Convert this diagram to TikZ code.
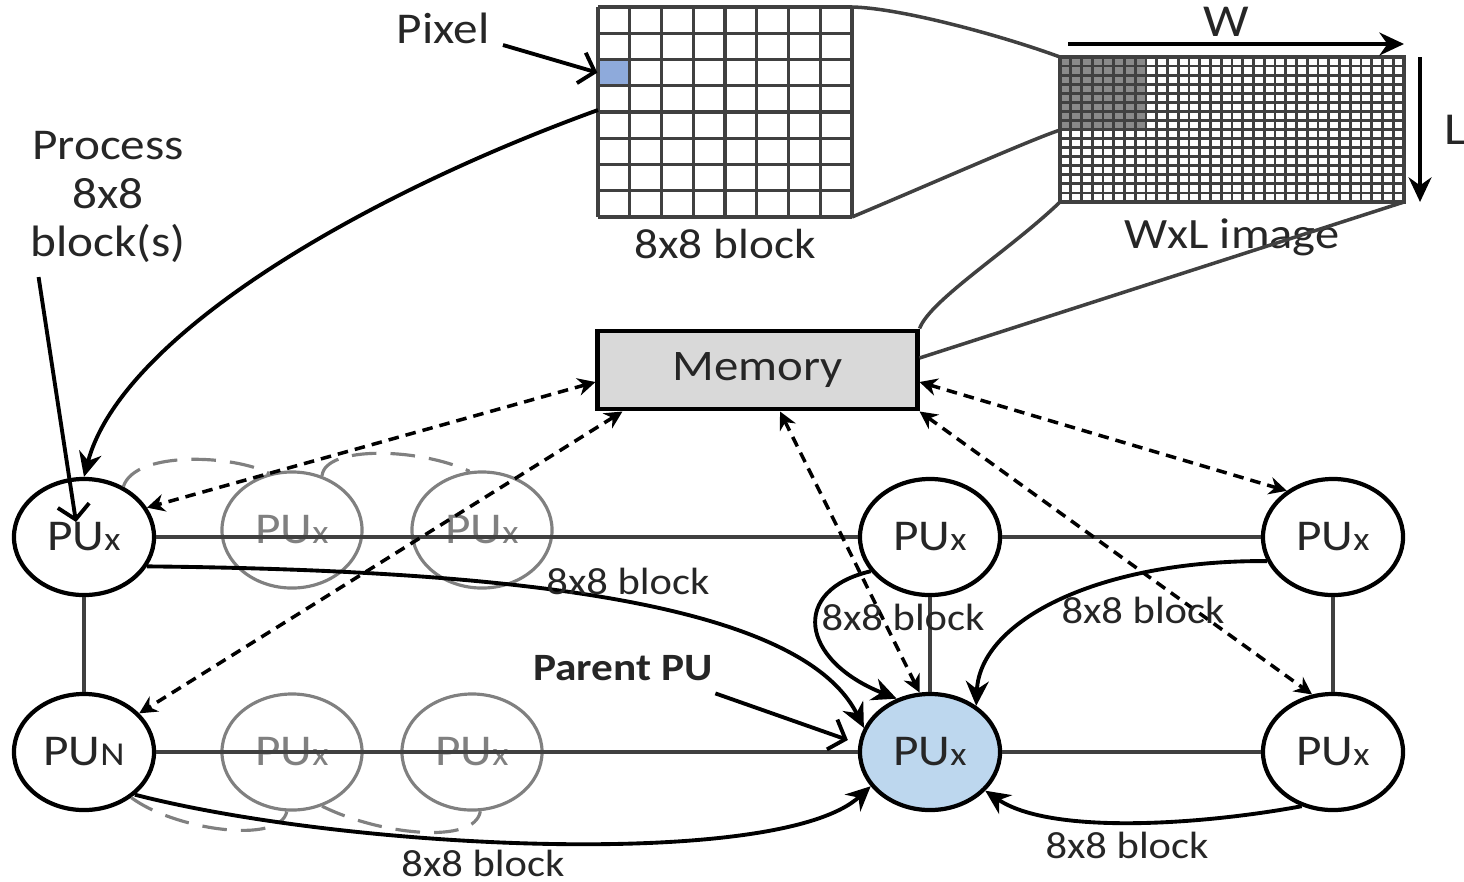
\documentclass[tikz,border=0pt]{standalone}
\usepackage{fontspec}
\setmainfont{Carlito}[FakeStretch=1.12]
\usepackage{tikz}
\usetikzlibrary{arrows.meta}
\usetikzlibrary{shapes.geometric}
\definecolor{linegray}{HTML}{404040}
\definecolor{ghostgray}{HTML}{808080}
\definecolor{parentblue}{HTML}{BDD7EE}
\definecolor{pixblue}{HTML}{8EAADB}
\definecolor{memgray}{HTML}{D9D9D9}
\definecolor{blockgray}{HTML}{8A8A8A}
\definecolor{txt}{HTML}{262626}
\tikzset{pu/.style = {draw, ellipse, line width = 1.2pt, fill = white, inner sep = 0,
                      minimum width = 1.4cm, minimum height = 1.16cm,
                      text = txt, font = \fontsize{12.5}{15}\selectfont}}
\tikzset{ghost/.style = {pu, fill = none, draw = ghostgray, text = ghostgray, line width = 0.9pt}}
\tikzset{link/.style = {draw = linegray, line width = 1pt}}
\tikzset{lbl/.style = {text = txt, inner sep = 0}}
\tikzset{gridline/.style = {draw = linegray, line width = 0.9pt}}
\tikzset{imgline/.style = {draw = linegray, line width = 0.8pt}}
\tikzset{xfer/.style = {-{Stealth[length = 7pt, width = 6.5pt]}, line width = 1.1pt}}
\tikzset{memlink/.style = {{Stealth[length = 5pt, width = 5pt]}-{Stealth[length = 5pt, width = 5pt]},
                           line width = 1pt, dash pattern = on 3pt off 2pt}}
\tikzset{pointer/.style = {-{Straight Barb[length = 4pt, width = 9pt]}, line width = 1.1pt}}
\tikzset{ghostdash/.style = {draw = ghostgray, line width = 0.9pt, dash pattern = on 7pt off 4pt}}
\newcommand{\PUx}{PU{\fontsize{9.5}{12}\selectfont x}}
\newcommand{\PUn}{PU{\fontsize{9.5}{12}\selectfont N}}
\begin{document}
\begin{tikzpicture}[x = 0.01cm, y = -0.01cm, font = \fontsize{10.8}{13}\selectfont]
    \useasboundingbox (0, 0) rectangle (1464, 881);

    % 8x8 block
    \node [fill = pixblue, inner sep = 0, minimum width = 0.3175cm, minimum height = 0.2625cm] (pix) at (613.9, 72.6) {};
    \foreach \i in {0,...,8}
      \draw [gridline] ({598 + \i*31.75}, 7) -- ({598 + \i*31.75}, 217);
    \foreach \j in {0,...,8}
      \draw [gridline] (598, {7 + \j*26.25}) -- (852, {7 + \j*26.25});
    \coordinate (blk-ne) at (852, 7);
    \coordinate (blk-se) at (852, 217);
    \coordinate (blk-w) at (598, 110);
    \node [lbl, font = \fontsize{12}{14}\selectfont] (blklab) at (725, 244) {8x8 block};
    \node [lbl, font = \fontsize{12.5}{14}\selectfont] (pixel) at (443, 28) {Pixel};

    % WxL image
    \fill [blockgray] (1060, 57) rectangle (1146, 129.5);
    \foreach \i in {0,...,32}
      \draw [imgline] ({1060 + \i*10.75}, 57) -- ++(0, 145);
    \foreach \j in {0,...,16}
      \draw [imgline] (1060, {57 + \j*9.0625}) -- ++(344, 0);
    \draw [imgline, line width = 1.2pt] (1060, 57) rectangle (1404, 202);
    \coordinate (img-nw) at (1060, 57);
    \coordinate (img-ne) at (1404, 57);
    \coordinate (img-w) at (1060, 130);
    \coordinate (img-sw) at (1060, 202);
    \coordinate (img-se) at (1404, 202);
    \node [lbl, font = \fontsize{13}{15}\selectfont] (wlab) at (1226, 22) {W};
    \node [lbl, font = \fontsize{13}{15}\selectfont] (llab) at (1455, 130) {L};
    \node [lbl, font = \fontsize{12.3}{15}\selectfont] (imglab) at (1232, 237) {WxL image};
    \draw [xfer] ([xshift = 0.08cm, yshift = 0.13cm]img-nw) -- ([yshift = 0.13cm]img-ne);
    \draw [xfer] ([xshift = 0.16cm]img-ne) -- ([xshift = 0.16cm]img-se);

    % memory
    \node [draw, line width = 1.4pt, fill = memgray, minimum width = 3.19cm, minimum height = 0.78cm,
           text = txt, font = \fontsize{12.4}{15}\selectfont] (mem) at (757.5, 370) {Memory};

    \draw [link] (blk-ne) .. controls (900, 8) and (1000, 35) .. (img-nw);
    \draw [link] (blk-se) .. controls (940, 180) and (1030, 140) .. (img-w);
    \draw [link] (img-sw) .. controls (1010, 250) and (930, 300) .. (mem.north east);
    \draw [link] (img-se) -- ([yshift = 0.12cm]mem.east);

    % processing units
    \node [pu] (pu1) at (84, 537) {\PUx};
    \node [pu] (puN) at (84, 752) {\PUn};
    \node [ghost] (g1) at (292, 530) {\PUx};
    \node [ghost] (g2) at (482, 530) {\PUx};
    \node [ghost] (g3) at (292, 752) {\PUx};
    \node [ghost] (g4) at (472, 752) {\PUx};
    \node [pu] (putm) at (930, 537) {\PUx};
    \node [pu] (putr) at (1333, 537) {\PUx};
    \node [pu, fill = parentblue] (parent) at (930, 752) {\PUx};
    \node [pu] (pubr) at (1333, 752) {\PUx};

    \draw [link] (pu1) -- (putm);
    \draw [link] (putm) -- (putr);
    \draw [link] (pu1) -- (puN);
    \draw [link] (puN) -- (parent);
    \draw [link] (parent) -- (pubr);
    \draw [link] (putm) -- (parent);
    \draw [link] (putr) -- (pubr);

    \draw [ghostdash] (pu1.52) .. controls (135, 450) and (235, 455) .. (g1.112);
    \draw [ghostdash] (g1.61) .. controls (325, 445) and (420, 448) .. (g2.102);
    \draw [ghostdash] (puN.-44) .. controls (175, 830) and (280, 845) .. (g3.-95);
    \draw [ghostdash] (g3.-61) .. controls (380, 835) and (475, 845) .. (g4.-82);

    % memory traffic
    \draw [memlink] ([yshift = -0.12cm]mem.west) -- (pu1.25);
    \draw [memlink] ([xshift = 0.27cm]mem.south west) -- (puN.35);
    \draw [memlink] ([xshift = 0.225cm]mem.south) -- (parent.100);
    \draw [memlink] (mem.south east) -- (pubr.110);
    \draw [memlink] ([yshift = -0.12cm]mem.east) -- (putr.135);

    % block transfers
    \draw [xfer] (blk-w) .. controls (350, 200) and (120, 340) .. (pu1.north);
    \draw [xfer] (pu1.-25) .. controls (500, 570) and (800, 600) .. (parent.160);
    \draw [xfer] (puN.-40) .. controls (350, 850) and (780, 870) .. (parent.-150);
    \draw [xfer] (putm.210) .. controls (790, 590) and (800, 660) .. (parent.122);
    \draw [xfer] (putr.200) .. controls (1100, 560) and (980, 620) .. (parent.45);
    \draw [xfer] (pubr.-120) .. controls (1200, 825) and (1050, 835) .. (parent.-35);
    \node [lbl] (lab1) at (628, 581) {8x8 block};
    \node [lbl] (lab2) at (483, 863) {8x8 block};
    \node [lbl] (lab3) at (903, 617) {8x8 block};
    \node [lbl] (lab4) at (1143, 610) {8x8 block};
    \node [lbl] (lab5) at (1127, 845) {8x8 block};

    % pointers
    \node [lbl, align = center, font = \fontsize{12.5}{13.7}\selectfont] (proc) at (108, 197) {Process\\8x8\\block(s)};
    \coordinate (procin) at (76, 522);
    \draw [pointer] ([xshift = 0.09cm, yshift = -0.14cm]proc.south west) -- (procin);
    \draw [pointer] ([xshift = 0.13cm, yshift = -0.17cm]pixel.east) -- (pix.west);
    \node [lbl, font = \bfseries\fontsize{11}{13}\selectfont] (plab) at (623, 668) {Parent PU};
    \draw [pointer] ([xshift = 0.02cm, yshift = -0.12cm]plab.south east) -- ([xshift = -0.1cm, yshift = 0.12cm]parent.west);
\end{tikzpicture}
\end{document}
